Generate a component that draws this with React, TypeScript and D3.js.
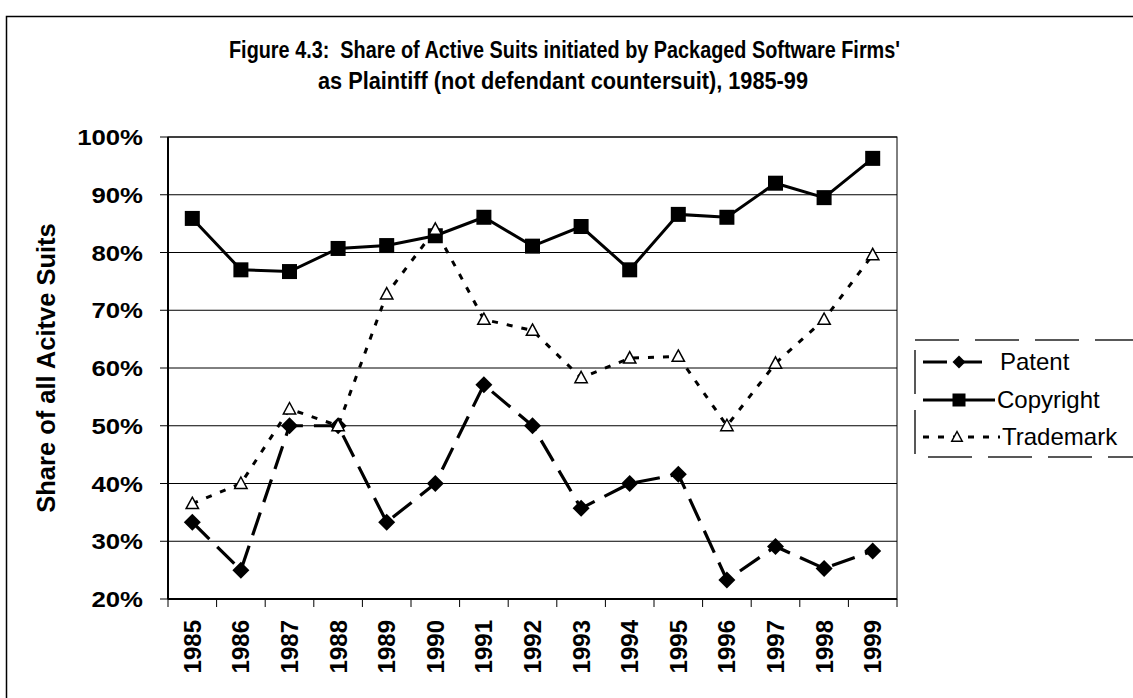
import React from "react";
import * as d3 from "d3";

const years = ["1985","1986","1987","1988","1989","1990","1991","1992","1993","1994","1995","1996","1997","1998","1999"];
const patent = [33.3, 25.0, 50.0, 50.0, 33.3, 40.0, 57.1, 50.0, 35.7, 40.0, 41.6, 23.3, 29.1, 25.3, 28.3];
const copyright = [85.9, 77.0, 76.7, 80.7, 81.2, 82.9, 86.1, 81.1, 84.5, 77.0, 86.6, 86.1, 92.0, 89.5, 96.3];
const trademark = [36.5, 40.0, 52.9, 50.0, 72.8, 84.0, 68.4, 66.5, 58.3, 61.7, 62.0, 50.0, 60.8, 68.4, 79.6];
const yTicks = [20, 30, 40, 50, 60, 70, 80, 90, 100];
const titleLines = ["Figure 4.3:  Share of Active Suits initiated by Packaged Software Firms'", "as Plaintiff (not defendant countersuit), 1985-99"];
const yLabel = "Share of all Acitve Suits";
const seriesNames = ["Patent", "Copyright", "Trademark"];

const W = 1133, H = 698;
const L = 168, R = 897, T = 137, B = 599;
const FONT = "'Liberation Sans', Arial, sans-serif";
const SX = 1.12; // horizontal stretch of the original picture

export default function App() {
  const x = d3.scaleBand<string>().domain(years).range([L, R]).padding(0);
  const y = d3.scaleLinear().domain([20, 100]).range([B, T]);
  const cx = (i: number) => (x(years[i]) as number) + x.bandwidth() / 2;
  const line = d3.line<number>().x((_, i) => cx(i)).y((d) => y(d));

  const diamond = (px: number, py: number, s: number) =>
    `M${px},${py - s}L${px + s},${py}L${px},${py + s}L${px - s},${py}Z`;
  const tri = (px: number, py: number, s: number) =>
    `M${px},${py - s}L${px + s * 0.95},${py + s * 0.75}L${px - s * 0.95},${py + s * 0.75}Z`;

  const boundaries = d3.range(years.length + 1).map((i) => L + i * x.bandwidth());

  const legendRows = [362, 400, 437];
  const lx0 = 923, lmx = 959;

  return (
    <svg width={W} height={H} style={{ position: "absolute", left: 0, top: 0, background: "#fff" }} fontFamily={FONT}>
      <rect x={0} y={0} width={W} height={H} fill="#fff" />
      {/* outer frame */}
      <rect x={6.5} y={16.5} width={1300} height={900} fill="none" stroke="#000" strokeWidth={1.5} />
      {/* title */}
      <text x={564.5} y={58} textAnchor="middle" fontSize={23} fontWeight="bold" textLength={671} lengthAdjust="spacingAndGlyphs" style={{ whiteSpace: "pre" }}>{titleLines[0]}</text>
      <text x={563} y={89} textAnchor="middle" fontSize={23} fontWeight="bold" textLength={490} lengthAdjust="spacingAndGlyphs" style={{ whiteSpace: "pre" }}>{titleLines[1]}</text>

      {/* gridlines */}
      {yTicks.map((t) => (
        <line key={"g" + t} x1={L} x2={R} y1={y(t)} y2={y(t)} stroke="#000" strokeWidth={1} />
      ))}
      {/* plot border */}
      <rect x={L} y={T} width={R - L} height={B - T} fill="none" stroke="#000" strokeWidth={1} />
      <line x1={L} x2={L} y1={T} y2={B} stroke="#000" strokeWidth={2} />
      <line x1={L} x2={R} y1={B} y2={B} stroke="#000" strokeWidth={2} />
      {/* y ticks */}
      {yTicks.map((t) => (
        <g key={"yt" + t}>
          <line x1={L - 8} x2={L} y1={y(t)} y2={y(t)} stroke="#000" strokeWidth={1} />
          <g transform={`translate(143,${y(t)}) scale(${SX},1)`}>
            <text x={0} y={0} dy="0.35em" textAnchor="end" fontSize={23} fontWeight="bold">{t}%</text>
          </g>
        </g>
      ))}
      {/* x ticks */}
      {boundaries.map((bx, i) => (
        <line key={"xt" + i} x1={bx} x2={bx} y1={B} y2={B + 8} stroke="#000" strokeWidth={1} />
      ))}
      {years.map((yr, i) => (
        <text key={"xl" + yr} transform={`translate(${cx(i)},620) rotate(-90)`} dy="0.35em" textAnchor="end" fontSize={24} fontWeight="bold">{yr}</text>
      ))}
      {/* y label */}
      <text transform="translate(46,368) rotate(-90)" dy="0.35em" textAnchor="middle" fontSize={25.5} fontWeight="bold">{yLabel}</text>

      {/* series lines */}
      <path d={line(trademark) as string} fill="none" stroke="#000" strokeWidth={3} strokeDasharray="6 9" />
      <path d={line(patent) as string} fill="none" stroke="#000" strokeWidth={3.2} strokeDasharray="24 11" />
      <path d={line(copyright) as string} fill="none" stroke="#000" strokeWidth={3} />

      {/* markers */}
      {copyright.map((v, i) => (
        <rect key={"cm" + i} x={cx(i) - 7.5} y={y(v) - 7.5} width={15} height={15} fill="#000" />
      ))}
      {patent.map((v, i) => (
        <path key={"pm" + i} d={diamond(cx(i), y(v), 8.5)} fill="#000" />
      ))}
      {trademark.map((v, i) => (
        <path key={"tm" + i} d={tri(cx(i), y(v), 6.5)} fill="#fff" stroke="#000" strokeWidth={1.5} />
      ))}

      {/* legend */}
      <rect x={915} y={340} width={300} height={117} fill="#fff" stroke="#222" strokeWidth={1.5} strokeDasharray="44 16" />
      <line x1={lx0} x2={983} y1={legendRows[0]} y2={legendRows[0]} stroke="#000" strokeWidth={3} strokeDasharray="24 11" />
      <path d={diamond(lmx, legendRows[0], 6.5)} fill="#000" />
      <text x={1000} y={legendRows[0]} dy="0.35em" fontSize={24}>{seriesNames[0]}</text>
      <line x1={lx0} x2={995} y1={legendRows[1]} y2={legendRows[1]} stroke="#000" strokeWidth={3} />
      <rect x={lmx - 6.5} y={legendRows[1] - 6.5} width={13} height={13} fill="#000" />
      <text x={997} y={legendRows[1]} dy="0.35em" fontSize={24}>{seriesNames[1]}</text>
      <line x1={lx0} x2={1000} y1={legendRows[2]} y2={legendRows[2]} stroke="#000" strokeWidth={3} strokeDasharray="6 9" />
      <path d={tri(957, legendRows[2], 5.5)} fill="#fff" stroke="#000" strokeWidth={1.5} />
      <text x={1002} y={legendRows[2]} dy="0.35em" fontSize={24}>{seriesNames[2]}</text>
    </svg>
  );
}
